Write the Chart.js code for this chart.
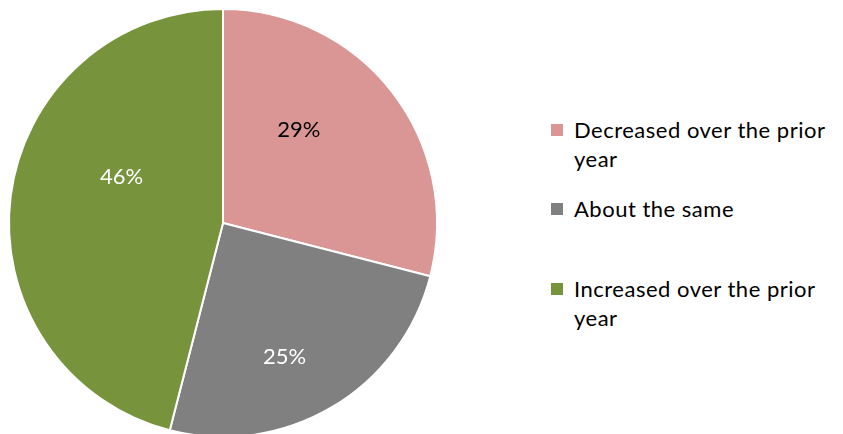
<!DOCTYPE html>
<html>
<head>
<meta charset="utf-8">
<script src="https://cdn.jsdelivr.net/npm/chart.js@4"></script>
<style>
  html, body { margin: 0; padding: 0; background: #fff; overflow: hidden; }
  #wrap { position: relative; width: 843px; height: 434px; font-family: Lato, "Open Sans", sans-serif; }
  #pieBox { position: absolute; left: 0; top: 0; width: 446px; height: 446px; }
  #legend { position: absolute; left: 550px; top: 115px; width: 285px; }
  .item { display: flex; align-items: flex-start; font-size: 22px; letter-spacing: 0.5px; line-height: 29px; color: #000; }
  .sw { width: 12px; height: 12px; margin: 9px 11px 0 1px; flex: none; }
</style>
</head>
<body>
<div id="wrap">
  <div id="pieBox"><canvas id="pie"></canvas></div>
  <div id="legend"></div>
</div>
<script>
var categories = ['Decreased over the prior year', 'About the same', 'Increased over the prior year'];
var shares = [29, 25, 46];
var colors = ['#D99694', '#808080', '#77933C'];
var labelColors = ['#000000', '#ffffff', '#ffffff'];

// legend (wrapping text like the original)
var legendGaps = [0, 21, 51];
var legend = document.getElementById('legend');
categories.forEach(function (cat, i) {
    var row = document.createElement('div');
    row.className = 'item';
    row.style.marginTop = legendGaps[i] + 'px';
    var sw = document.createElement('span');
    sw.className = 'sw';
    sw.style.background = colors[i];
    var txt = document.createElement('span');
    txt.textContent = cat;
    row.appendChild(sw);
    row.appendChild(txt);
    legend.appendChild(row);
});

// where to put each % label: fraction of radius and angle shift (deg)
var labelPlace = [
    { r: 0.56, da: -13 },
    { r: 0.69, da: 6 },
    { r: 0.52, da: 17 }
];

var pctLabels = {
    id: 'pctLabels',
    afterDatasetsDraw: function (chart) {
        var ctx = chart.ctx;
        var meta = chart.getDatasetMeta(0);
        ctx.save();
        ctx.font = '22px Lato, "Open Sans", sans-serif';
        ctx.textAlign = 'center';
        ctx.textBaseline = 'middle';
        meta.data.forEach(function (arc, i) {
            var p = arc.getProps(['x', 'y', 'startAngle', 'endAngle', 'outerRadius'], true);
            var mid = (p.startAngle + p.endAngle) / 2 + labelPlace[i].da * Math.PI / 180;
            var rr = p.outerRadius * labelPlace[i].r;
            ctx.fillStyle = labelColors[i];
            ctx.fillText(shares[i] + '%', p.x + Math.cos(mid) * rr, p.y + Math.sin(mid) * rr);
        });
        ctx.restore();
    }
};

new Chart(document.getElementById('pie').getContext('2d'), {
    type: 'pie',
    data: {
        labels: categories,
        datasets: [{
            data: shares,
            backgroundColor: colors,
            borderColor: '#ffffff',
            borderWidth: 2
        }]
    },
    options: {
        responsive: true,
        maintainAspectRatio: false,
        animation: false,
        layout: { padding: 8 },
        plugins: {
            legend: { display: false },
            tooltip: { enabled: false }
        }
    },
    plugins: [pctLabels]
});
</script>
</body>
</html>
